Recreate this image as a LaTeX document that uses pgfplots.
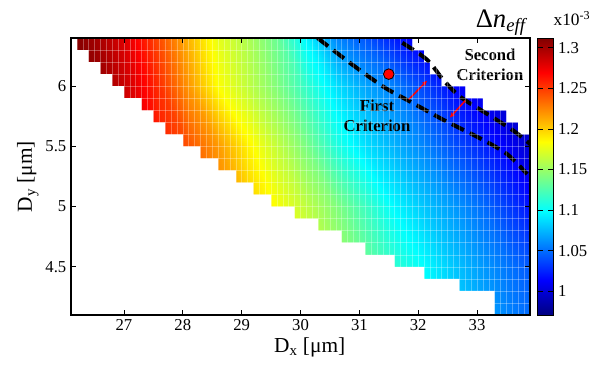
\documentclass[border=0pt]{standalone}
\usepackage{fontspec}
\setmainfont{Liberation Serif}
\usepackage{pgfplots}
\usepackage{pgfplotstable}
\pgfplotsset{compat=1.18}
\usetikzlibrary{arrows.meta}
\pgfplotstableread{
x y v
26.1 4.1 1.312
26.6 4.1 1.312
27.1 4.1 1.298
27.6 4.1 1.278
28.1 4.1 1.261
28.6 4.1 1.240
29.1 4.1 1.220
29.6 4.1 1.199
30.1 4.1 1.179
30.6 4.1 1.159
31.1 4.1 1.138
31.6 4.1 1.118
32.1 4.1 1.101
32.6 4.1 1.084
33.1 4.1 1.070
33.6 4.1 1.056
33.9 4.1 1.049
26.1 4.5 1.312
26.6 4.5 1.312
27.1 4.5 1.298
27.6 4.5 1.278
28.1 4.5 1.257
28.6 4.5 1.237
29.1 4.5 1.217
29.6 4.5 1.196
30.1 4.5 1.176
30.6 4.5 1.155
31.1 4.5 1.135
31.6 4.5 1.114
32.1 4.5 1.099
32.6 4.5 1.080
33.1 4.5 1.065
33.6 4.5 1.051
33.9 4.5 1.043
26.1 5.0 1.312
26.6 5.0 1.312
27.1 5.0 1.292
27.6 5.0 1.271
28.1 5.0 1.251
28.6 5.0 1.227
29.1 5.0 1.203
29.6 5.0 1.182
30.1 5.0 1.163
30.6 5.0 1.143
31.1 5.0 1.120
31.6 5.0 1.097
32.1 5.0 1.080
32.6 5.0 1.065
33.1 5.0 1.050
33.6 5.0 1.031
33.9 5.0 1.019
26.1 5.5 1.312
26.6 5.5 1.295
27.1 5.5 1.278
27.6 5.5 1.261
28.1 5.5 1.241
28.6 5.5 1.218
29.1 5.5 1.188
29.6 5.5 1.164
30.1 5.5 1.140
30.6 5.5 1.110
31.1 5.5 1.089
31.6 5.5 1.073
32.1 5.5 1.058
32.6 5.5 1.040
33.1 5.5 1.025
33.6 5.5 1.008
33.9 5.5 0.998
26.1 6.0 1.312
26.6 6.0 1.305
27.1 6.0 1.283
27.6 6.0 1.254
28.1 6.0 1.218
28.6 6.0 1.183
29.1 6.0 1.163
29.6 6.0 1.142
30.1 6.0 1.116
30.6 6.0 1.089
31.1 6.0 1.069
31.6 6.0 1.056
32.1 6.0 1.036
32.6 6.0 1.015
33.1 6.0 1.002
33.6 6.0 0.990
33.9 6.0 0.985
26.1 6.4 1.312
26.6 6.4 1.298
27.1 6.4 1.276
27.6 6.4 1.244
28.1 6.4 1.208
28.6 6.4 1.176
29.1 6.4 1.157
29.6 6.4 1.134
30.1 6.4 1.096
30.6 6.4 1.059
31.1 6.4 1.042
31.6 6.4 1.022
32.1 6.4 1.005
32.6 6.4 0.997
33.1 6.4 0.988
33.6 6.4 0.981
33.9 6.4 0.978
}\fielddata
\begin{document}
\begin{tikzpicture}
\begin{axis}[
  name=ax,
  scale only axis,
  width=344.25pt, height=207.75pt,
  xmin=26.1, xmax=33.9, ymin=4.1, ymax=6.4,
  enlargelimits=false,
  axis on top,
  colormap/jet,
  point meta min=0.971, point meta max=1.312,
  xtick={27,28,29,30,31,32,33},
  ytick={4.5,5,5.5,6},
  minor xtick={26.2,26.3,...,33.85},
  minor ytick={4.2,4.3,...,6.35},
  minor tick length=0pt,
  xminorgrids=true, yminorgrids=true,
  minor grid style={white, opacity=0.3, line width=0.4pt},
  tick align=inside,
  major tick length=4pt,
  axis line style={line width=0.8pt},
  every tick/.style={black, line width=0.6pt},
  /pgf/number format/assume math mode=true,
  tick label style={font=\fontsize{12.5}{13}\selectfont},
  xlabel={D\textsubscript{x} [μm]},
  ylabel={D\textsubscript{y} [μm]},
  label style={font=\fontsize{16}{18}\selectfont},
  xlabel style={at={(axis description cs:0.52,-0.1155)}, anchor=center},
  ylabel style={at={(axis description cs:-0.094,0.5)}, anchor=center},
  colorbar,
  colorbar style={
    at={(parent axis.north east)}, anchor=north west, xshift=-3pt,
    width=12pt,
    ytick={1,1.05,1.1,1.15,1.2,1.25,1.3},
    yticklabels={1,1.05,1.1,1.15,1.2,1.25,1.3},
    yticklabel style={font=\fontsize{12.5}{13}\selectfont},
    tick align=inside, major tick length=4pt,
    axis line style={line width=0.6pt},
  },
]
\addplot[surf, shader=interp, mesh/cols=17, point meta=explicit]
  table[x=x, y=y, meta=v] {\fielddata};
% blank region lower left
\addplot[fill=white, draw=none] coordinates {
(26.1,6.41) (26.2,6.41) (26.2,6.3) (26.4,6.3) (26.4,6.2) (26.6,6.2) (26.6,6.1)
(26.8,6.1) (26.8,6.0) (27.0,6.0) (27.0,5.9) (27.3,5.9) (27.3,5.8) (27.5,5.8)
(27.5,5.7) (27.7,5.7) (27.7,5.6) (28.0,5.6) (28.0,5.5) (28.3,5.5) (28.3,5.4)
(28.6,5.4) (28.6,5.3) (28.9,5.3) (28.9,5.2) (29.2,5.2) (29.2,5.1) (29.5,5.1)
(29.5,5.0) (29.9,5.0) (29.9,4.9) (30.3,4.9) (30.3,4.8) (30.7,4.8) (30.7,4.7)
(31.1,4.7) (31.1,4.6) (31.6,4.6) (31.6,4.5) (32.1,4.5) (32.1,4.4) (32.7,4.4)
(32.7,4.3) (33.3,4.3) (33.3,4.09) (26.09,4.09)
} -- cycle;
% blank region upper right
\addplot[fill=white, draw=none] coordinates {
(31.9,6.41) (31.9,6.3) (32.1,6.3) (32.1,6.2) (32.2,6.2) (32.2,6.1) (32.4,6.1)
(32.4,6.0) (32.8,6.0) (32.8,5.9) (33.1,5.9) (33.1,5.8) (33.5,5.8) (33.5,5.7)
(33.7,5.7) (33.7,5.6) (33.91,5.6) (33.91,6.41)
} -- cycle;
% criteria
\addplot[black, line width=3pt, dash pattern=on 10pt off 5pt, smooth] coordinates {
(30.29,6.40) (30.85,6.19) (31.41,5.995) (31.87,5.87) (32.43,5.72) (33.0,5.58) (33.5,5.44) (33.85,5.27)};
\addplot[black, line width=3pt, dash pattern=on 10pt off 5pt, smooth] coordinates {
(31.73,6.36) (32.15,6.22) (32.43,6.05) (32.72,5.91) (33.17,5.77) (33.62,5.63) (33.95,5.50)};
\addplot[red, line width=1.1pt, -{Stealth[length=4pt,width=3.5pt]}] coordinates {(31.84,5.89) (32.15,6.045)};
\addplot[red, line width=1.1pt, -{Stealth[length=4pt,width=3.5pt]}] coordinates {(32.8,5.88) (32.54,5.74)};
\addplot[only marks, mark=*, mark size=4pt, mark options={fill=red, draw=black, line width=0.6pt}] coordinates {(31.5,6.1)};
\node[font=\bfseries\fontsize{12.5}{15}\selectfont, align=center] at (axis cs:31.3,5.755) {First\\Criterion};
\node[font=\bfseries\fontsize{12.5}{15}\selectfont, align=center] at (axis cs:33.22,6.18) {Second\\Criterion};
\end{axis}
\node[anchor=base] at ([xshift=-21.4pt, yshift=8.25pt]ax.north east) {\fontsize{20}{20}\selectfont Δ\textit{n}\raisebox{-3.5pt}{\fontsize{14}{14}\selectfont\textit{eff}}};
\node[font=\fontsize{13}{13}\selectfont, anchor=base] at ([xshift=31.5pt, yshift=9.75pt]ax.north east) {x10\textsuperscript{-3}};
\pgfresetboundingbox
\path[use as bounding box] ([xshift=-53.25pt, yshift=-37.5pt]ax.south west) rectangle ([xshift=46.5pt, yshift=28.5pt]ax.north east);
\end{tikzpicture}
\end{document}
